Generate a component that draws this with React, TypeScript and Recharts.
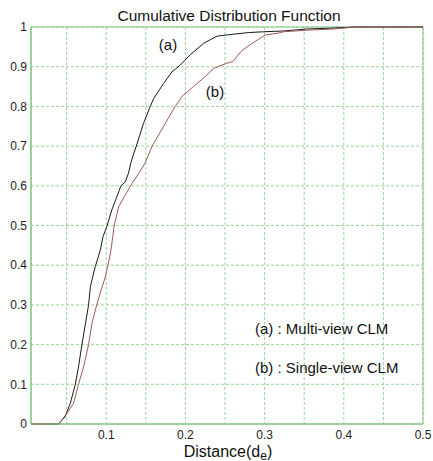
import { LineChart, Line, XAxis, YAxis, CartesianGrid, ReferenceArea } from 'recharts';

// (a) Multi-view CLM
const multiX = [0.005, 0.0398, 0.048, 0.0546, 0.061, 0.065, 0.0693, 0.0735, 0.0777, 0.08, 0.082, 0.0861, 0.0925, 0.0959, 0.101, 0.107, 0.1135, 0.1186, 0.124, 0.128, 0.131, 0.1345, 0.138, 0.147, 0.1556, 0.16, 0.1725, 0.183, 0.1935, 0.206, 0.223, 0.24, 0.261, 0.28, 0.2987, 0.324, 0.353, 0.383, 0.414, 0.5];
const multiY = [0, 0, 0.018, 0.052, 0.1, 0.144, 0.2, 0.249, 0.3, 0.346, 0.363, 0.396, 0.438, 0.472, 0.499, 0.539, 0.573, 0.6, 0.61, 0.631, 0.657, 0.68, 0.7, 0.757, 0.8, 0.82, 0.858, 0.887, 0.904, 0.93, 0.959, 0.977, 0.982, 0.986, 0.988, 0.99, 0.995, 0.997, 1, 1];

// (b) Single-view CLM
const singleX = [0.005, 0.04, 0.0504, 0.0588, 0.065, 0.0714, 0.0777, 0.082, 0.088, 0.094, 0.0988, 0.102, 0.106, 0.11, 0.1156, 0.124, 0.1325, 0.141, 0.149, 0.158, 0.1725, 0.187, 0.1957, 0.21, 0.225, 0.2356, 0.2525, 0.26, 0.271, 0.285, 0.301, 0.316, 0.324, 0.354, 0.387, 0.414, 0.5];
const singleY = [0, 0, 0.027, 0.052, 0.1, 0.144, 0.2, 0.254, 0.3, 0.34, 0.37, 0.398, 0.438, 0.499, 0.547, 0.577, 0.606, 0.631, 0.657, 0.7, 0.75, 0.8, 0.825, 0.85, 0.875, 0.896, 0.909, 0.913, 0.94, 0.96, 0.98, 0.984, 0.988, 0.992, 0.995, 1, 1];

const xTicks = [0.05, 0.1, 0.15, 0.2, 0.25, 0.3, 0.35, 0.4, 0.45, 0.5];
const xLabels = ['', '0.1', '', '0.2', '', '0.3', '', '0.4', '', '0.5'];
const yTicks = [0, 0.1, 0.2, 0.3, 0.4, 0.5, 0.6, 0.7, 0.8, 0.9, 1];
const yLabels = ['0', '0.1', '0.2', '0.3', '0.4', '0.5', '0.6', '0.7', '0.8', '0.9', '1'];

const multiData = multiX.map((x, i) => ({ x, y: multiY[i] }));
const singleData = singleX.map((x, i) => ({ x, y: singleY[i] }));

const font = '"Liberation Sans", Arial, sans-serif';
const borderColor = '#86c686';
const gridColor = '#9ad49a';

export default function App() {
  return (
    <div style={{ position: 'absolute', left: 0, top: 0, width: 433, height: 461, background: '#fff', fontFamily: font }}>
      <LineChart width={433} height={461} margin={{ top: 27, right: 10, bottom: 0, left: 0 }}>
        <CartesianGrid stroke={gridColor} strokeDasharray="3 2" />
        <XAxis
          type="number"
          dataKey="x"
          domain={[0.005, 0.5]}
          ticks={xTicks}
          tickFormatter={(v) => xLabels[xTicks.indexOf(v)] ?? ''}
          height={37}
          axisLine={{ stroke: borderColor }}
          tickLine={false}
          tickSize={0}
          tickMargin={6}
          tick={{ fontSize: 12, fill: '#222', fontFamily: font }}
          allowDataOverflow
        />
        <YAxis
          type="number"
          dataKey="y"
          domain={[0, 1]}
          ticks={yTicks}
          tickFormatter={(v) => yLabels[yTicks.indexOf(v)] ?? ''}
          width={31}
          axisLine={{ stroke: borderColor }}
          tickLine={false}
          tickSize={0}
          tickMargin={4}
          tick={{ fontSize: 12, fill: '#222', fontFamily: font }}
        />
        <ReferenceArea x1={0.005} x2={0.5} y1={0} y2={1} fill="none" stroke={borderColor} strokeWidth={1} />
        <Line data={multiData} dataKey="y" type="linear" stroke="#1a1a1a" strokeWidth={1} dot={false} isAnimationActive={false} />
        <Line data={singleData} dataKey="y" type="linear" stroke="#a05a5a" strokeWidth={1} dot={false} isAnimationActive={false} />
      </LineChart>
      <svg width={433} height={461} style={{ position: 'absolute', left: 0, top: 0, pointerEvents: 'none' }}>
        <g fontFamily={font} fill="#111">
          <text x={229} y={20.5} fontSize={15.5} textAnchor="middle">Cumulative Distribution Function</text>
          <text x={168} y={50} fontSize={15} textAnchor="middle">(a)</text>
          <text x={215} y={97} fontSize={15} textAnchor="middle">(b)</text>
          <text x={255} y={334} fontSize={15}>(a) : Multi-view CLM</text>
          <text x={255} y={373} fontSize={15}>(b) : Single-view CLM</text>
          <text x={228} y={456.5} fontSize={16} textAnchor="middle">
            Distance(d<tspan fontSize={12} dy={3}>e</tspan><tspan dy={-3}>)</tspan>
          </text>
        </g>
      </svg>
    </div>
  );
}
